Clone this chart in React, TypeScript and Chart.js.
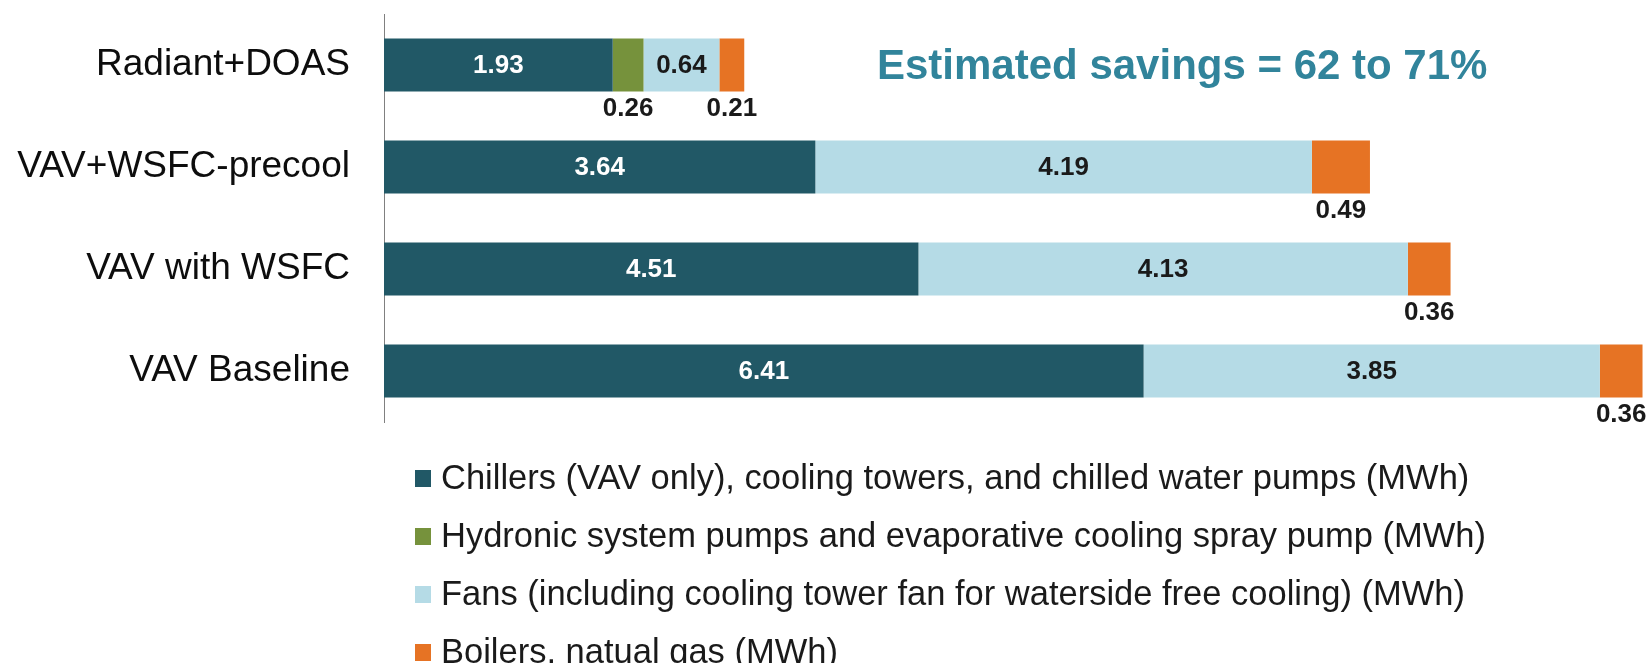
import React, { useEffect, useRef } from "react";
import { Chart, registerables } from "chart.js";

Chart.register(...registerables);

const categories = ["Radiant+DOAS", "VAV+WSFC-precool", "VAV with WSFC", "VAV Baseline"];
const chillers = [1.93, 3.64, 4.51, 6.41];
const hydronic = [0.26, 0, 0, 0];
const fans = [0.64, 4.19, 4.13, 3.85];
const boilers = [0.21, 0.49, 0.36, 0.36];
const seriesNames = [
  "Chillers (VAV only), cooling towers, and chilled water pumps (MWh)",
  "Hydronic system pumps and evaporative cooling spray pump (MWh)",
  "Fans (including cooling tower fan for waterside free cooling) (MWh)",
  "Boilers, natual gas (MWh)",
];
const seriesColors = ["#215866", "#76923c", "#b5dbe6", "#e67324"];
const annotationText = "Estimated savings = 62 to 71%";

const FONT = '"Liberation Sans", Arial, sans-serif';

const valueLabels = {
  id: "valueLabels",
  afterDatasetsDraw(chart: any) {
    const ctx = chart.ctx;
    ctx.save();
    ctx.font = `bold 26px ${FONT}`;
    ctx.textAlign = "center";
    ctx.textBaseline = "middle";
    chart.data.datasets.forEach((ds: any, di: number) => {
      const meta = chart.getDatasetMeta(di);
      meta.data.forEach((el: any, i: number) => {
        const v = ds.data[i];
        if (!v) return;
        const cx = (el.x + el.base) / 2;
        const txt = v.toFixed(2);
        if (di === 0) {
          ctx.fillStyle = "#ffffff";
          ctx.fillText(txt, cx, el.y + 1);
        } else if (di === 2) {
          ctx.fillStyle = "#1a1a1a";
          ctx.fillText(txt, cx, el.y + 1);
        } else {
          ctx.fillStyle = "#1a1a1a";
          ctx.fillText(txt, cx, el.y + el.height / 2 + 17);
        }
      });
    });
    ctx.restore();
  },
};

const annotationAndLegend = {
  id: "annotationAndLegend",
  afterDraw(chart: any) {
    const ctx = chart.ctx;
    ctx.save();
    ctx.font = `bold 42px ${FONT}`;
    ctx.fillStyle = "#31849b";
    ctx.textAlign = "left";
    ctx.textBaseline = "alphabetic";
    ctx.fillText(annotationText, 877, 79);

    ctx.font = `34.5px ${FONT}`;
    ctx.textBaseline = "middle";
    const x0 = 415;
    const y0 = chart.chartArea.bottom + 56;
    const step = 58;
    seriesNames.forEach((name, i) => {
      const y = y0 + i * step;
      ctx.fillStyle = seriesColors[i];
      ctx.fillRect(x0, y - 8, 16, 17);
      ctx.fillStyle = "#1a1a1a";
      ctx.fillText(name, x0 + 26, y + 1);
    });
    ctx.restore();
  },
};

export default function App() {
  const ref = useRef<HTMLCanvasElement | null>(null);
  useEffect(() => {
    document.body.style.margin = "0";
    if (!ref.current) return;
    const data = [chillers, hydronic, fans, boilers];
    const chart = new Chart(ref.current, {
      type: "bar",
      data: {
        labels: categories,
        datasets: data.map((d, i) => ({
          label: seriesNames[i],
          data: d,
          backgroundColor: seriesColors[i],
          borderWidth: 0,
          barPercentage: 0.52,
          categoryPercentage: 1,
        })),
      },
      options: {
        indexAxis: "y",
        animation: false,
        responsive: false,
        layout: { padding: { top: 14, bottom: 241, left: 0, right: 0 } },
        plugins: {
          legend: { display: false },
          tooltip: { enabled: false },
        },
        scales: {
          x: { stacked: true, min: 0, max: 10.7, display: false },
          y: {
            stacked: true,
            grid: { display: false, drawTicks: false },
            border: { display: true, color: "#808080", width: 1 },
            ticks: {
              color: "#0d0d0d",
              font: { family: FONT, size: 37 },
              padding: 34,
            },
            afterFit: (scale: any) => {
              scale.width = 384;
              scale.paddingTop = 0;
              scale.paddingBottom = 0;
            },
          },
        },
      },
      plugins: [valueLabels, annotationAndLegend],
    });
    return () => chart.destroy();
  }, []);
  return (
    <div style={{ width: 1652, height: 663 }}>
      <canvas ref={ref} width={1652} height={663} />
    </div>
  );
}
